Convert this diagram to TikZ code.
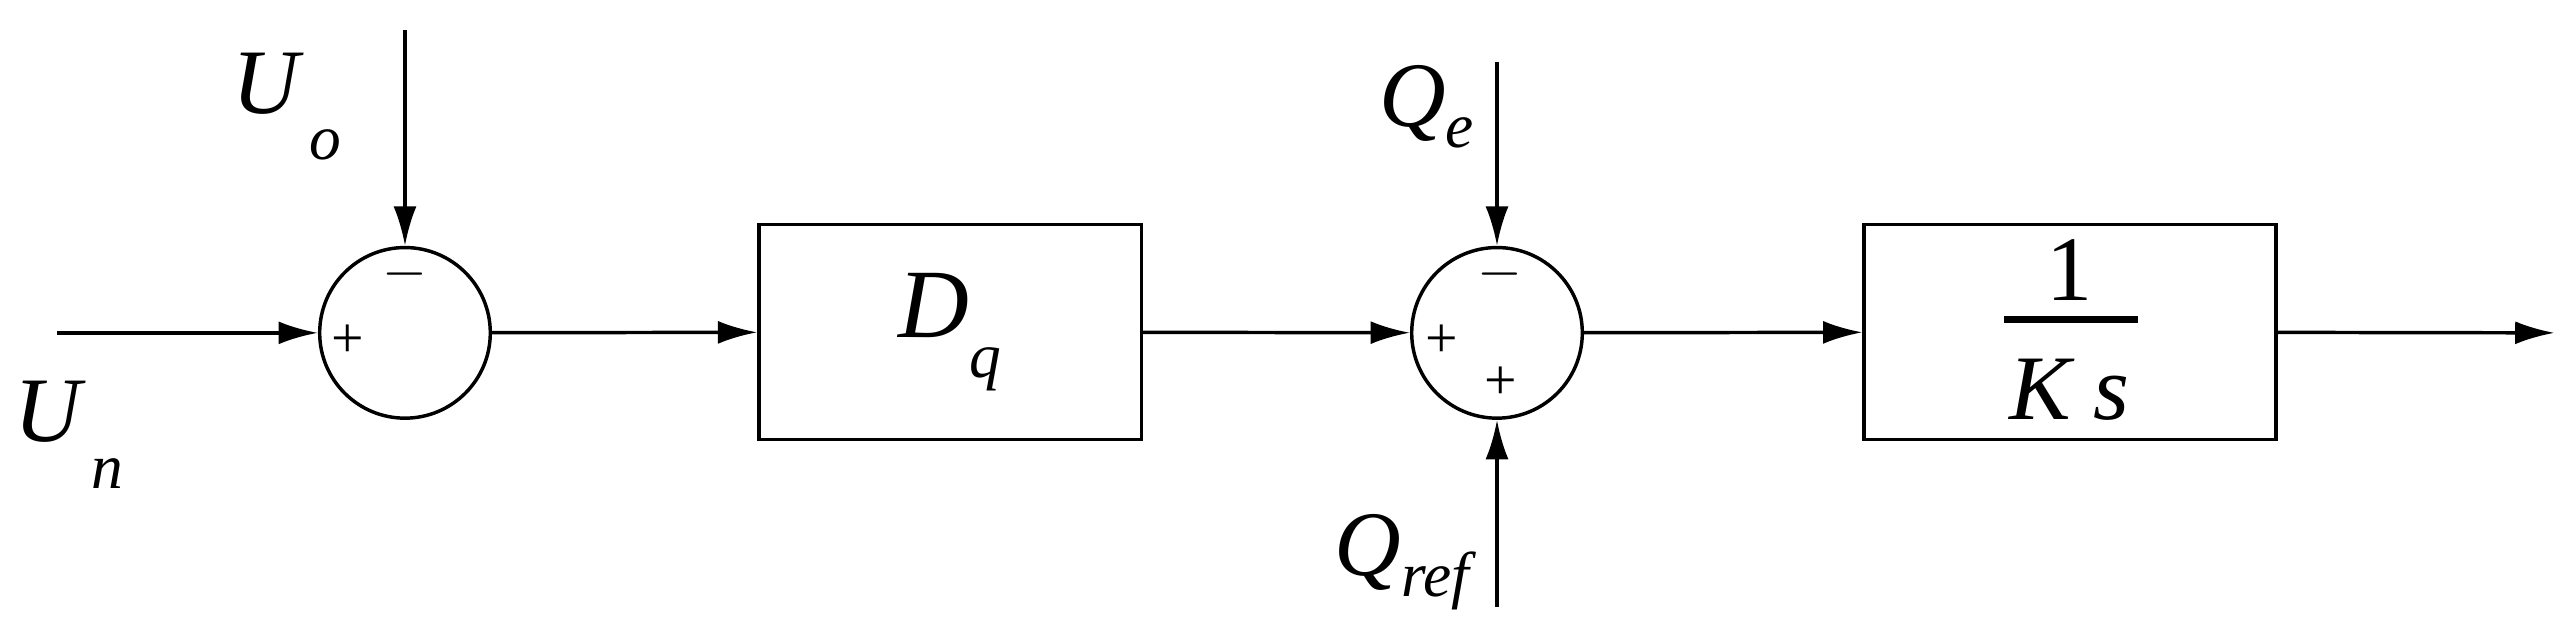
\documentclass[tikz,border=0pt]{standalone}
\usepackage{fontspec}
\setmainfont{Liberation Serif}
\usetikzlibrary{arrows.meta}
\begin{document}
\begin{tikzpicture}[x=0.01cm,y=-0.01cm,
  line width=0.6pt,
  arr/.style={-{Latex[length=2.4mm,width=1.4mm]}},
  sum/.style={circle,draw,minimum size=1.04cm,inner sep=0pt},
  blk/.style={draw,minimum width=2.33cm,minimum height=1.31cm,inner sep=0pt},
  lbl/.style={font=\fontsize{16}{16}\selectfont\itshape,inner sep=0pt},
  sg/.style={font=\fontsize{10}{10}\selectfont,inner sep=0pt}]
\useasboundingbox (0,0) rectangle (1568,391);
\coordinate (in) at (35,203);
\node[sum] (s1) at (247,203) {};
\coordinate (uo) at (247,18);
\node[blk] (dq) at (579.5,202.5) {\fontsize{17}{17}\selectfont\textit{D}\raisebox{-0.9ex}{\fontsize{11}{11}\selectfont\textit{q}}};
\node[sum] (s2) at (913,203) {};
\coordinate (qe) at (913,38);
\coordinate (qr) at (913,370);
\node[blk,minimum width=2.51cm] (ks) at (1262.5,202.5) {};
\coordinate (out) at (1558,203);
\node[sg] at (1262,165) {\fontsize{16}{16}\selectfont 1};
\draw[line width=1.2pt] (1222,195) -- (1304,195);
\node[sg] at (1262,238) {\fontsize{16}{16}\selectfont\textit{K s}};
\draw[arr] (in) -- (s1);
\draw[arr] (uo) -- (s1);
\draw[arr] (s1) -- (dq);
\draw[arr] (dq) -- (s2);
\draw[arr] (qe) -- (s2);
\draw[arr] (qr) -- (s2);
\draw[arr] (s2) -- (ks);
\draw[arr] (ks) -- (out);
\node[lbl] (luo) at (175,65) {U\raisebox{-1.1ex}{\fontsize{11}{11}\selectfont\,o}};
\node[lbl] (lun) at (42,265) {U\raisebox{-1.1ex}{\fontsize{11}{11}\selectfont\,n}};
\node[lbl] (lqe) at (870,65) {Q\raisebox{-0.5ex}{\fontsize{11}{11}\selectfont e}};
\node[lbl] (lqr) at (855,343) {Q\raisebox{-0.5ex}{\fontsize{11}{11}\selectfont ref}};
\node[sg] at (212,208) {+};
\node[sg] at (247,167) {$-$};
\node[sg] at (879,208) {+};
\node[sg] at (915,167) {$-$};
\node[sg] at (915,234) {+};
\end{tikzpicture}
\end{document}
